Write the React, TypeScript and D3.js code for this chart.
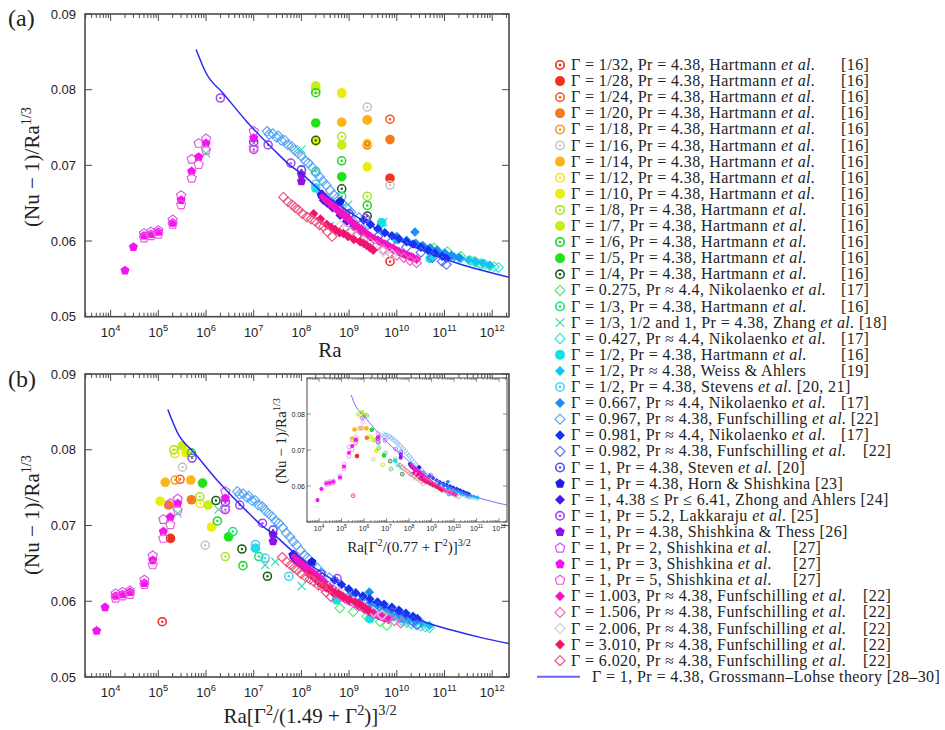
import React from "react";
import * as d3 from "d3";

type Pt = number[];

// ---- data: [Ra, (Nu-1)/Ra^(1/3)] (Zhang also carries its own Gamma) ----
const hartmann32: Pt[] = [[7.2e9, 0.0573]];
const hartmann28: Pt[] = [[7.2e9, 0.0683]];
const hartmann24: Pt[] = [[7.2e9, 0.0761]];
const hartmann20: Pt[] = [[2.4e9, 0.0727], [7.2e9, 0.0734]];
const hartmann18: Pt[] = [[2.4e9, 0.076]];
const hartmann16: Pt[] = [[2.4e9, 0.0777], [7.2e9, 0.0674]];
const hartmann14: Pt[] = [[7e8, 0.0757], [2.4e9, 0.076]];
const hartmann12: Pt[] = [[7e8, 0.0795], [2.4e9, 0.0729]];
const hartmann10: Pt[] = [[2e8, 0.0732], [7e8, 0.0796], [2.4e9, 0.0698]];
const hartmann8: Pt[] = [[2e8, 0.08], [7e8, 0.0738], [2.4e9, 0.0659]];
const hartmann7: Pt[] = [[2e8, 0.0805], [7e8, 0.0727]];
const hartmann6: Pt[] = [[2e8, 0.0796], [7e8, 0.0706], [2.4e9, 0.0647]];
const hartmann5: Pt[] = [[2e8, 0.0756], [7e8, 0.0685]];
const hartmann4: Pt[] = [[2e8, 0.0733], [7e8, 0.0669], [2.4e9, 0.0633]];
const nikolaenko0275: Pt[] = [[6e10, 0.0591], [1.15e11, 0.0586], [2.2e11, 0.058], [4.2e11, 0.0573], [5.8e11, 0.0568]];
const hartmann3: Pt[] = [[2e8, 0.0692], [7e8, 0.0659]];
const zhang: Pt[] = [[1e6, 0.0716, 1], [1e8, 0.0721, 1 / 3], [9.5e8, 0.0648, 1 / 3], [4e8, 0.062, 1], [5.2e8, 0.0652, 0.5], [5.2e9, 0.0625, 0.5]];
const nikolaenko0427: Pt[] = [[3.5e11, 0.0574], [4.5e11, 0.0572], [5.6e11, 0.057], [7.1e11, 0.0569], [8.9e11, 0.0567], [1.1e12, 0.0566], [1.35e12, 0.0565]];
const hartmann2: Pt[] = [[2e8, 0.067], [4.8e9, 0.0624], [1e10, 0.0602], [5e10, 0.0577]];
const weissAhlers: Pt[] = [[4e10, 0.059], [5.6e10, 0.0587], [7.9e10, 0.0584], [1.1e11, 0.0582], [1.6e11, 0.0579], [2.2e11, 0.0577], [3.2e11, 0.0575], [4.5e11, 0.0573], [6.3e11, 0.0571], [8.9e11, 0.0568]];
const stevens2: Pt[] = [[2e8, 0.0675], [3.2e8, 0.0657], [1e9, 0.0633]];
const nikolaenko0667: Pt[] = [[1e10, 0.0606], [1.6e10, 0.0601], [2.4e10, 0.0612], [2.5e10, 0.0597], [3.5e10, 0.0594], [5e10, 0.0591], [7e10, 0.0588], [1e11, 0.0584], [1.4e11, 0.0581], [2e11, 0.0578]];
const funf0967: Pt[] = [[1.9e7, 0.0745], [2.1e7, 0.0741], [2.5e7, 0.0742], [3e7, 0.0737], [3.3e7, 0.0739], [3.8e7, 0.0733], [4.5e7, 0.0733], [5.2e7, 0.0727], [6.3e7, 0.0725], [7.2e7, 0.072], [8.5e7, 0.0716], [1e8, 0.0712], [1.2e8, 0.0706], [1.4e8, 0.0703], [1.7e8, 0.0697], [2e8, 0.069], [2.4e8, 0.0685], [2.8e8, 0.0679], [3.3e8, 0.0674], [4e8, 0.0667], [4.8e8, 0.0661], [5.6e8, 0.0657], [7.1e8, 0.065], [8.9e8, 0.0644], [1.1e9, 0.0638], [1.6e9, 0.0631], [2.5e9, 0.0622]];
const nikolaenko0981: Pt[] = [[2e9, 0.0628], [2.8e9, 0.0622], [4e9, 0.0616], [5.6e9, 0.0611], [7.9e9, 0.0607], [1.1e10, 0.0603], [1.6e10, 0.0599], [2.2e10, 0.0596], [3.2e10, 0.0592], [4.5e10, 0.0588], [6.3e10, 0.0584], [8.9e10, 0.058], [1.1e11, 0.0577]];
const funf0982: Pt[] = [[4e9, 0.0606], [7.9e9, 0.06], [1.6e10, 0.0592], [3.2e10, 0.0585], [5.6e10, 0.0578], [8.9e10, 0.0573], [1.1e11, 0.0569]];
const stevens1: Pt[] = [[1e7, 0.0731], [1e8, 0.0694], [1e9, 0.0636]];
const hornShishkina: Pt[] = [[2.6e8, 0.0661], [6.5e8, 0.0652]];
const zhongAhlers: Pt[] = [[2.7e8, 0.0662], [2.9e8, 0.0654], [3.5e8, 0.065], [4.5e8, 0.0644], [6.5e8, 0.0634], [8.9e8, 0.0626], [1.23e9, 0.0619], [1.8e9, 0.0612], [2.75e9, 0.0606], [4e9, 0.0601]];
const lakkaraju: Pt[] = [[2e6, 0.0789], [1e7, 0.0721], [2e7, 0.0727], [6e7, 0.0703], [2.2e9, 0.063]];
const shishkinaThess: Pt[] = [[1e8, 0.0688], [1e8, 0.0679]];
const shishkinaPr2: Pt[] = [[5e4, 0.061], [7e4, 0.0612], [1e5, 0.0614], [2e5, 0.0628], [3e5, 0.066], [5e5, 0.0708], [7e5, 0.0729], [1e6, 0.0735], [1e7, 0.0745]];
const shishkinaPr3: Pt[] = [[2e4, 0.0561], [3e4, 0.0592], [5e4, 0.0607], [7e4, 0.0609], [1e5, 0.0612], [2e5, 0.0624], [3e5, 0.0654], [5e5, 0.0692], [7e5, 0.0711], [1e6, 0.0729], [1e7, 0.0736]];
const shishkinaPr5: Pt[] = [[5e4, 0.0604], [7e4, 0.0607], [1e5, 0.0609], [2e5, 0.0622], [3e5, 0.0648], [5e5, 0.0683], [7e5, 0.0701], [1e6, 0.072], [1e7, 0.0723]];
const funf1003: Pt[] = [[2.9e8, 0.0659], [3.2e8, 0.0655], [3.5e8, 0.0654], [4e8, 0.065], [4.5e8, 0.0648], [5e8, 0.0644], [5.6e8, 0.0642], [6.3e8, 0.0638], [7.1e8, 0.0637], [8e8, 0.0633], [8.9e8, 0.0632], [1e9, 0.0628], [1.1e9, 0.0626], [1.3e9, 0.0622], [1.45e9, 0.062], [1.6e9, 0.0617], [1.8e9, 0.0616], [2e9, 0.0613], [2.2e9, 0.0611], [2.5e9, 0.0608], [2.8e9, 0.0606], [3.2e9, 0.0603], [3.5e9, 0.0602], [4e9, 0.06], [4.5e9, 0.0599], [5e9, 0.0597], [5.6e9, 0.0596], [6.3e9, 0.0593], [7.2e9, 0.0592], [8e9, 0.059], [8.9e9, 0.0589], [1e10, 0.0587], [1.1e10, 0.0586], [1.25e10, 0.0584], [1.4e10, 0.0583], [1.6e10, 0.0581], [1.8e10, 0.058], [2e10, 0.0579], [2.2e10, 0.0578], [2.6e10, 0.0576]];
const funf1506: Pt[] = [[7.9e8, 0.0617], [1.1e9, 0.0612], [1.45e9, 0.0607], [2e9, 0.0602], [2.75e9, 0.0598], [3.8e9, 0.0594], [5.2e9, 0.0589], [7.2e9, 0.0585], [1e10, 0.0581], [1.4e10, 0.0578], [1.9e10, 0.0574], [2.6e10, 0.0571]];
const funf2006: Pt[] = [[6.5e8, 0.062], [1e9, 0.0612], [2e9, 0.06], [3.2e9, 0.0594], [5.2e9, 0.0586], [8e9, 0.0582]];
const funf3010: Pt[] = [[1.8e8, 0.0636], [2.5e8, 0.0629], [3.4e8, 0.0622], [4.2e8, 0.0618], [5.1e8, 0.0615], [6.3e8, 0.0611], [7.6e8, 0.061], [9.5e8, 0.0606], [1.26e9, 0.0602], [1.7e9, 0.0599], [2e9, 0.0597], [2.35e9, 0.0594], [2.75e9, 0.0591], [3.2e9, 0.0588]];
const funf6020: Pt[] = [[4.2e7, 0.0658], [5.2e7, 0.0652], [6.3e7, 0.0648], [7.4e7, 0.0644], [8.7e7, 0.0641], [1.05e8, 0.0636], [1.3e8, 0.0632], [1.6e8, 0.0629], [1.95e8, 0.0626], [2.4e8, 0.0621], [2.9e8, 0.0619], [3.5e8, 0.0612], [4.4e8, 0.0606]];
// Grossmann-Lohse theory, Gamma = 1, Pr = 4.38
const glTheory: Pt[] = [[6.2e5, 0.0853], [1e6, 0.0822], [2.3e6, 0.0795], [7.1e6, 0.0758], [2.6e7, 0.0721], [5.8e7, 0.07], [1e8, 0.0689], [2.9e8, 0.0663], [1.45e9, 0.0632], [7.2e9, 0.0607], [3.6e10, 0.0587], [1.8e11, 0.0571], [6.3e11, 0.0561], [2.3e12, 0.0552], [9e12, 0.0544]];

type Row = { data: Pt[]; g: number; shape: string; color: string; pre: string; it?: string; ref: string; refX?: number };
const H = "Hartmann ";
const series: Row[] = [
  { data: hartmann32, g: 1 / 32, shape: "ring", color: "#ec2b1f", pre: "Γ = 1/32, Pr = 4.38, " + H, it: "et al.", ref: "[16]", refX: 841 },
  { data: hartmann28, g: 1 / 28, shape: "dot", color: "#f0321a", pre: "Γ = 1/28, Pr = 4.38, " + H, it: "et al.", ref: "[16]", refX: 841 },
  { data: hartmann24, g: 1 / 24, shape: "ring", color: "#f45a22", pre: "Γ = 1/24, Pr = 4.38, " + H, it: "et al.", ref: "[16]", refX: 841 },
  { data: hartmann20, g: 1 / 20, shape: "dot", color: "#f6791f", pre: "Γ = 1/20, Pr = 4.38, " + H, it: "et al.", ref: "[16]", refX: 841 },
  { data: hartmann18, g: 1 / 18, shape: "ring", color: "#f59a22", pre: "Γ = 1/18, Pr = 4.38, " + H, it: "et al.", ref: "[16]", refX: 841 },
  { data: hartmann16, g: 1 / 16, shape: "ring", color: "#c4c4c4", pre: "Γ = 1/16, Pr = 4.38, " + H, it: "et al.", ref: "[16]", refX: 841 },
  { data: hartmann14, g: 1 / 14, shape: "dot", color: "#fbb514", pre: "Γ = 1/14, Pr = 4.38, " + H, it: "et al.", ref: "[16]", refX: 841 },
  { data: hartmann12, g: 1 / 12, shape: "ring", color: "#f2e11e", pre: "Γ = 1/12, Pr = 4.38, " + H, it: "et al.", ref: "[16]", refX: 841 },
  { data: hartmann10, g: 1 / 10, shape: "dot", color: "#e8ef0a", pre: "Γ = 1/10, Pr = 4.38, " + H, it: "et al.", ref: "[16]", refX: 841 },
  { data: hartmann8, g: 1 / 8, shape: "ring", color: "#a6e622", pre: "Γ = 1/8, Pr = 4.38, " + H, it: "et al.", ref: "[16]", refX: 841 },
  { data: hartmann7, g: 1 / 7, shape: "dot", color: "#c6ef16", pre: "Γ = 1/7, Pr = 4.38, " + H, it: "et al.", ref: "[16]", refX: 841 },
  { data: hartmann6, g: 1 / 6, shape: "ring", color: "#22d62a", pre: "Γ = 1/6, Pr = 4.38, " + H, it: "et al.", ref: "[16]", refX: 841 },
  { data: hartmann5, g: 1 / 5, shape: "dot", color: "#1fe21a", pre: "Γ = 1/5, Pr = 4.38, " + H, it: "et al.", ref: "[16]", refX: 841 },
  { data: hartmann4, g: 1 / 4, shape: "ring", color: "#1b5e1b", pre: "Γ = 1/4, Pr = 4.38, " + H, it: "et al.", ref: "[16]", refX: 841 },
  { data: nikolaenko0275, g: 0.275, shape: "dia", color: "#4aee6e", pre: "Γ = 0.275, Pr ≈ 4.4, Nikolaenko ", it: "et al.", ref: "[17]", refX: 841 },
  { data: hartmann3, g: 1 / 3, shape: "ring", color: "#1fe07a", pre: "Γ = 1/3, Pr = 4.38, " + H, it: "et al.", ref: "[16]", refX: 841 },
  { data: zhang, g: 1, shape: "x", color: "#3ad8b0", pre: "Γ = 1/3, 1/2 and 1, Pr = 4.38, Zhang ", it: "et al.", ref: "[18]" },
  { data: nikolaenko0427, g: 0.427, shape: "dia", color: "#34e2cc", pre: "Γ = 0.427, Pr ≈ 4.4, Nikolaenko ", it: "et al.", ref: "[17]", refX: 841 },
  { data: hartmann2, g: 0.5, shape: "dot", color: "#12e2e2", pre: "Γ = 1/2, Pr = 4.38, " + H, it: "et al.", ref: "[16]", refX: 841 },
  { data: weissAhlers, g: 0.5, shape: "diaF", color: "#14c4ee", pre: "Γ = 1/2, Pr ≈ 4.38, Weiss & Ahlers", ref: "[19]", refX: 841 },
  { data: stevens2, g: 0.5, shape: "ring", color: "#48d2f6", pre: "Γ = 1/2, Pr = 4.38, Stevens ", it: "et al.", ref: "[20, 21]" },
  { data: nikolaenko0667, g: 0.667, shape: "diaF", color: "#1e8ef0", pre: "Γ = 0.667, Pr ≈ 4.4, Nikolaenko ", it: "et al.", ref: "[17]", refX: 841 },
  { data: funf0967, g: 0.967, shape: "dia", color: "#5aa6f0", pre: "Γ = 0.967, Pr ≈ 4.38, Funfschilling ", it: "et al.", ref: "[22]" },
  { data: nikolaenko0981, g: 0.981, shape: "diaF", color: "#1236f0", pre: "Γ = 0.981, Pr ≈ 4.4, Nikolaenko ", it: "et al.", ref: "[17]", refX: 841 },
  { data: funf0982, g: 0.982, shape: "dia", color: "#5a6ef0", pre: "Γ = 0.982, Pr ≈ 4.38, Funfschilling ", it: "et al.", ref: "[22]", refX: 863 },
  { data: stevens1, g: 1, shape: "ring", color: "#5a4cf0", pre: "Γ = 1, Pr = 4.38, Steven ", it: "et al.", ref: "[20]" },
  { data: hornShishkina, g: 1, shape: "pentF", color: "#1e1ee0", pre: "Γ = 1, Pr = 4.38, Horn & Shishkina", ref: "[23]" },
  { data: zhongAhlers, g: 1, shape: "diaF", color: "#4a18e4", pre: "Γ = 1, 4.38 ≤ Pr ≤ 6.41, Zhong and Ahlers", ref: "[24]" },
  { data: lakkaraju, g: 1, shape: "ring", color: "#a24cf2", pre: "Γ = 1, Pr = 5.2, Lakkaraju ", it: "et al.", ref: "[25]" },
  { data: shishkinaThess, g: 1, shape: "pentF", color: "#9010e6", pre: "Γ = 1, Pr = 4.38, Shishkina & Thess", ref: "[26]" },
  { data: shishkinaPr2, g: 1, shape: "pent", color: "#de52ee", pre: "Γ = 1, Pr = 2, Shishkina ", it: "et al.", ref: "[27]", refX: 793 },
  { data: shishkinaPr3, g: 1, shape: "pentF", color: "#f414ee", pre: "Γ = 1, Pr = 3, Shishkina ", it: "et al.", ref: "[27]", refX: 793 },
  { data: shishkinaPr5, g: 1, shape: "pent", color: "#f05ade", pre: "Γ = 1, Pr = 5, Shishkina ", it: "et al.", ref: "[27]", refX: 793 },
  { data: funf1003, g: 1.003, shape: "diaF", color: "#f214c2", pre: "Γ = 1.003, Pr ≈ 4.38, Funfschilling ", it: "et al.", ref: "[22]", refX: 863 },
  { data: funf1506, g: 1.506, shape: "dia", color: "#f266b8", pre: "Γ = 1.506, Pr ≈ 4.38, Funfschilling ", it: "et al.", ref: "[22]", refX: 863 },
  { data: funf2006, g: 2.006, shape: "dia", color: "#d2d2d2", pre: "Γ = 2.006, Pr ≈ 4.38, Funfschilling ", it: "et al.", ref: "[22]", refX: 863 },
  { data: funf3010, g: 3.01, shape: "diaF", color: "#f01470", pre: "Γ = 3.010, Pr ≈ 4.38, Funfschilling ", it: "et al.", ref: "[22]", refX: 863 },
  { data: funf6020, g: 6.02, shape: "dia", color: "#f0507c", pre: "Γ = 6.020, Pr ≈ 4.38, Funfschilling ", it: "et al.", ref: "[22]", refX: 863 },
];

const SANS = "'Liberation Sans', Arial, sans-serif";
const SERIF = "'Liberation Serif', 'Times New Roman', serif";
const FRAME = "#4a4a4a";

function Marker({ shape, color, x, y, s }: { shape: string; color: string; x: number; y: number; s: number }) {
  const sw = Math.max(0.7, s * 0.32);
  if (shape === "dot") return <circle cx={x} cy={y} r={s} fill={color} />;
  if (shape === "ring")
    return (
      <g>
        <circle cx={x} cy={y} r={s - sw / 2} fill="none" stroke={color} strokeWidth={sw} />
        <circle cx={x} cy={y} r={Math.max(0.6, s * 0.25)} fill={color} />
      </g>
    );
  if (shape === "dia" || shape === "diaF") {
    const d = `M${x},${y - s}L${x + s},${y}L${x},${y + s}L${x - s},${y}Z`;
    return shape === "diaF" ? <path d={d} fill={color} /> : <path d={d} fill="none" stroke={color} strokeWidth={sw * 0.75} />;
  }
  if (shape === "pent" || shape === "pentF") {
    const pts = d3.range(5).map((k) => {
      const a = -Math.PI / 2 + (k * 2 * Math.PI) / 5;
      return [x + s * Math.cos(a), y + s * Math.sin(a)];
    });
    const d = "M" + pts.map((p) => p.join(",")).join("L") + "Z";
    return shape === "pentF" ? <path d={d} fill={color} /> : <path d={d} fill="none" stroke={color} strokeWidth={sw * 0.75} />;
  }
  const h = s * 0.85;
  return <path d={`M${x - h},${y - h}L${x + h},${y + h}M${x - h},${y + h}L${x + h},${y - h}`} stroke={color} strokeWidth={sw * 0.75} />;
}

const shift = (c: number) => (ra: number, g: number) => ra * Math.pow((g * g) / (c + g * g), 1.5);

type PanelCfg = {
  id: string; left: number; right: number; top: number; bottom: number;
  tf: (ra: number, g: number) => number; ms: number; inset?: boolean;
};

function Panel({ cfg }: { cfg: PanelCfg }) {
  const { left, right, top, bottom, tf, ms, inset, id } = cfg;
  const x = d3.scaleLog().domain([2.9e3, 2.25e12]).range([left, right]);
  const y = d3.scaleLinear().domain([0.05, 0.09]).range([bottom, top]);
  const isMajor = (t: number) => Math.abs(Math.log10(t) - Math.round(Math.log10(t))) < 1e-9;
  const xt = x.ticks();
  const yt = [0.05, 0.06, 0.07, 0.08, 0.09];
  const line = d3.line<Pt>().x((d) => x(tf(d[0], 1))).y((d) => y(d[1])).curve(d3.curveMonotoneX);
  const maj = inset ? 4 : 7;
  const mnr = inset ? 2 : 4;
  const fs = inset ? 7 : 13;
  return (
    <g>
      <defs>
        <clipPath id={"clip" + id}>
          <rect x={left} y={top} width={right - left} height={bottom - top} />
        </clipPath>
      </defs>
      {inset && <rect x={left} y={top} width={right - left} height={bottom - top} fill="#fff" />}
      <g clipPath={`url(#clip${id})`}>
        {series.map((s, i) => (
          <g key={i}>
            {s.data.map((p, j) => (
              <Marker key={j} shape={s.shape} color={s.color} x={x(tf(p[0], p.length > 2 ? p[2] : s.g))} y={y(p[1])} s={ms} />
            ))}
          </g>
        ))}
        <path d={line(glTheory) || ""} fill="none" stroke={inset ? "#7474f2" : "#2a2af2"} strokeWidth={inset ? 1 : 1.5} />
      </g>
      <rect x={left} y={top} width={right - left} height={bottom - top} fill="none" stroke={FRAME} strokeWidth={inset ? 1 : 1.6} />
      {xt.map((t, i) => {
        const L = isMajor(t) ? maj : mnr;
        return (
          <g key={i} stroke={FRAME} strokeWidth={inset ? 0.6 : 1}>
            <line x1={x(t)} x2={x(t)} y1={bottom} y2={bottom - L} />
            <line x1={x(t)} x2={x(t)} y1={top} y2={top + L} />
          </g>
        );
      })}
      {yt.map((t, i) => (
        <g key={i} stroke={FRAME} strokeWidth={inset ? 0.6 : 1}>
          <line x1={left} x2={left + maj} y1={y(t)} y2={y(t)} />
          <line x1={right} x2={right - maj} y1={y(t)} y2={y(t)} />
        </g>
      ))}
      {yt
        .filter((t) => !inset || (t > 0.055 && t < 0.085))
        .map((t, i) => (
          <text key={i} x={left - (inset ? 2 : 9)} y={y(t) + fs * 0.36} textAnchor="end" fontFamily={SANS} fontSize={fs} fill="#222">
            {t.toFixed(2)}
          </text>
        ))}
      {xt.filter(isMajor).map((t, i) => (
        <text key={i} x={x(t)} y={bottom + (inset ? 9 : 20)} textAnchor="middle" fontFamily={SANS} fontSize={fs} fill="#222">
          10
          <tspan dy={-fs * 0.45} fontSize={fs * 0.72}>
            {Math.round(Math.log10(t))}
          </tspan>
        </text>
      ))}
    </g>
  );
}

function YTitle({ cx, cy, fs }: { cx: number; cy: number; fs: number }) {
  return (
    <text transform={`translate(${cx},${cy}) rotate(-90)`} textAnchor="middle" fontFamily={SERIF} fontSize={fs} fill="#222">
      (Nu − 1)/Ra
      <tspan dy={-fs * 0.4} fontSize={fs * 0.68}>1/3</tspan>
    </text>
  );
}

function XTitleGamma({ cx, by, fs, c }: { cx: number; by: number; fs: number; c: string }) {
  const sup = fs * 0.68;
  const up = fs * 0.4;
  return (
    <text x={cx} y={by} textAnchor="middle" fontFamily={SERIF} fontSize={fs} fill="#222">
      Ra[Γ<tspan dy={-up} fontSize={sup}>2</tspan>
      <tspan dy={up}>/({c} + Γ</tspan>
      <tspan dy={-up} fontSize={sup}>2</tspan>
      <tspan dy={up}>)]</tspan>
      <tspan dy={-up} fontSize={sup}>3/2</tspan>
    </text>
  );
}

export default function App() {
  const panelA: PanelCfg = { id: "a", left: 85, right: 509, top: 14, bottom: 316.7, tf: (ra) => ra, ms: 4.8 };
  const panelB: PanelCfg = { id: "b", left: 85, right: 509, top: 374, bottom: 677, tf: shift(1.49), ms: 4.8 };
  const inset: PanelCfg = { id: "i", left: 307, right: 507, top: 378, bottom: 522, tf: shift(0.77), ms: 2.3, inset: true };
  const rowY = (i: number) => 65 + i * 16.1;
  const legFs = 16;
  const ls = 0.4;
  return (
    <svg width={945} height={730} style={{ position: "absolute", left: 0, top: 0, background: "#fff" }}>
      <rect width={945} height={730} fill="#fff" />
      <Panel cfg={panelA} />
      <Panel cfg={panelB} />
      <Panel cfg={inset} />
      <text x={8} y={26} fontFamily={SERIF} fontSize={24} fill="#222">(a)</text>
      <text x={8} y={387} fontFamily={SERIF} fontSize={24} fill="#222">(b)</text>
      <YTitle cx={39} cy={167} fs={21} />
      <YTitle cx={39} cy={515} fs={21} />
      <YTitle cx={286} cy={441} fs={15} />
      <text x={330} y={357} textAnchor="middle" fontFamily={SERIF} fontSize={21} fill="#222">Ra</text>
      <XTitleGamma cx={310} by={723} fs={21} c="1.49" />
      <XTitleGamma cx={409} by={552} fs={15} c="0.77" />
      {series.map((s, i) => {
        const yy = rowY(i);
        return (
          <g key={i}>
            <Marker shape={s.shape} color={s.color} x={560} y={yy} s={5} />
            <text x={571} y={yy + 5} fontFamily={SERIF} fontSize={legFs} letterSpacing={ls} fill="#222">
              {s.pre}
              {s.it && <tspan fontStyle="italic">{s.it}</tspan>}
              {!s.refX && " " + s.ref}
            </text>
            {s.refX && (
              <text x={s.refX} y={yy + 5} fontFamily={SERIF} fontSize={legFs} letterSpacing={ls} fill="#222">
                {s.ref}
              </text>
            )}
          </g>
        );
      })}
      <line x1={537} x2={580} y1={rowY(series.length)} y2={rowY(series.length)} stroke="#6666f0" strokeWidth={2} />
      <text x={592} y={rowY(series.length) + 5} fontFamily={SERIF} fontSize={legFs} letterSpacing={ls} fill="#222">
        Γ = 1, Pr = 4.38, Grossmann–Lohse theory [28–30]
      </text>
    </svg>
  );
}
